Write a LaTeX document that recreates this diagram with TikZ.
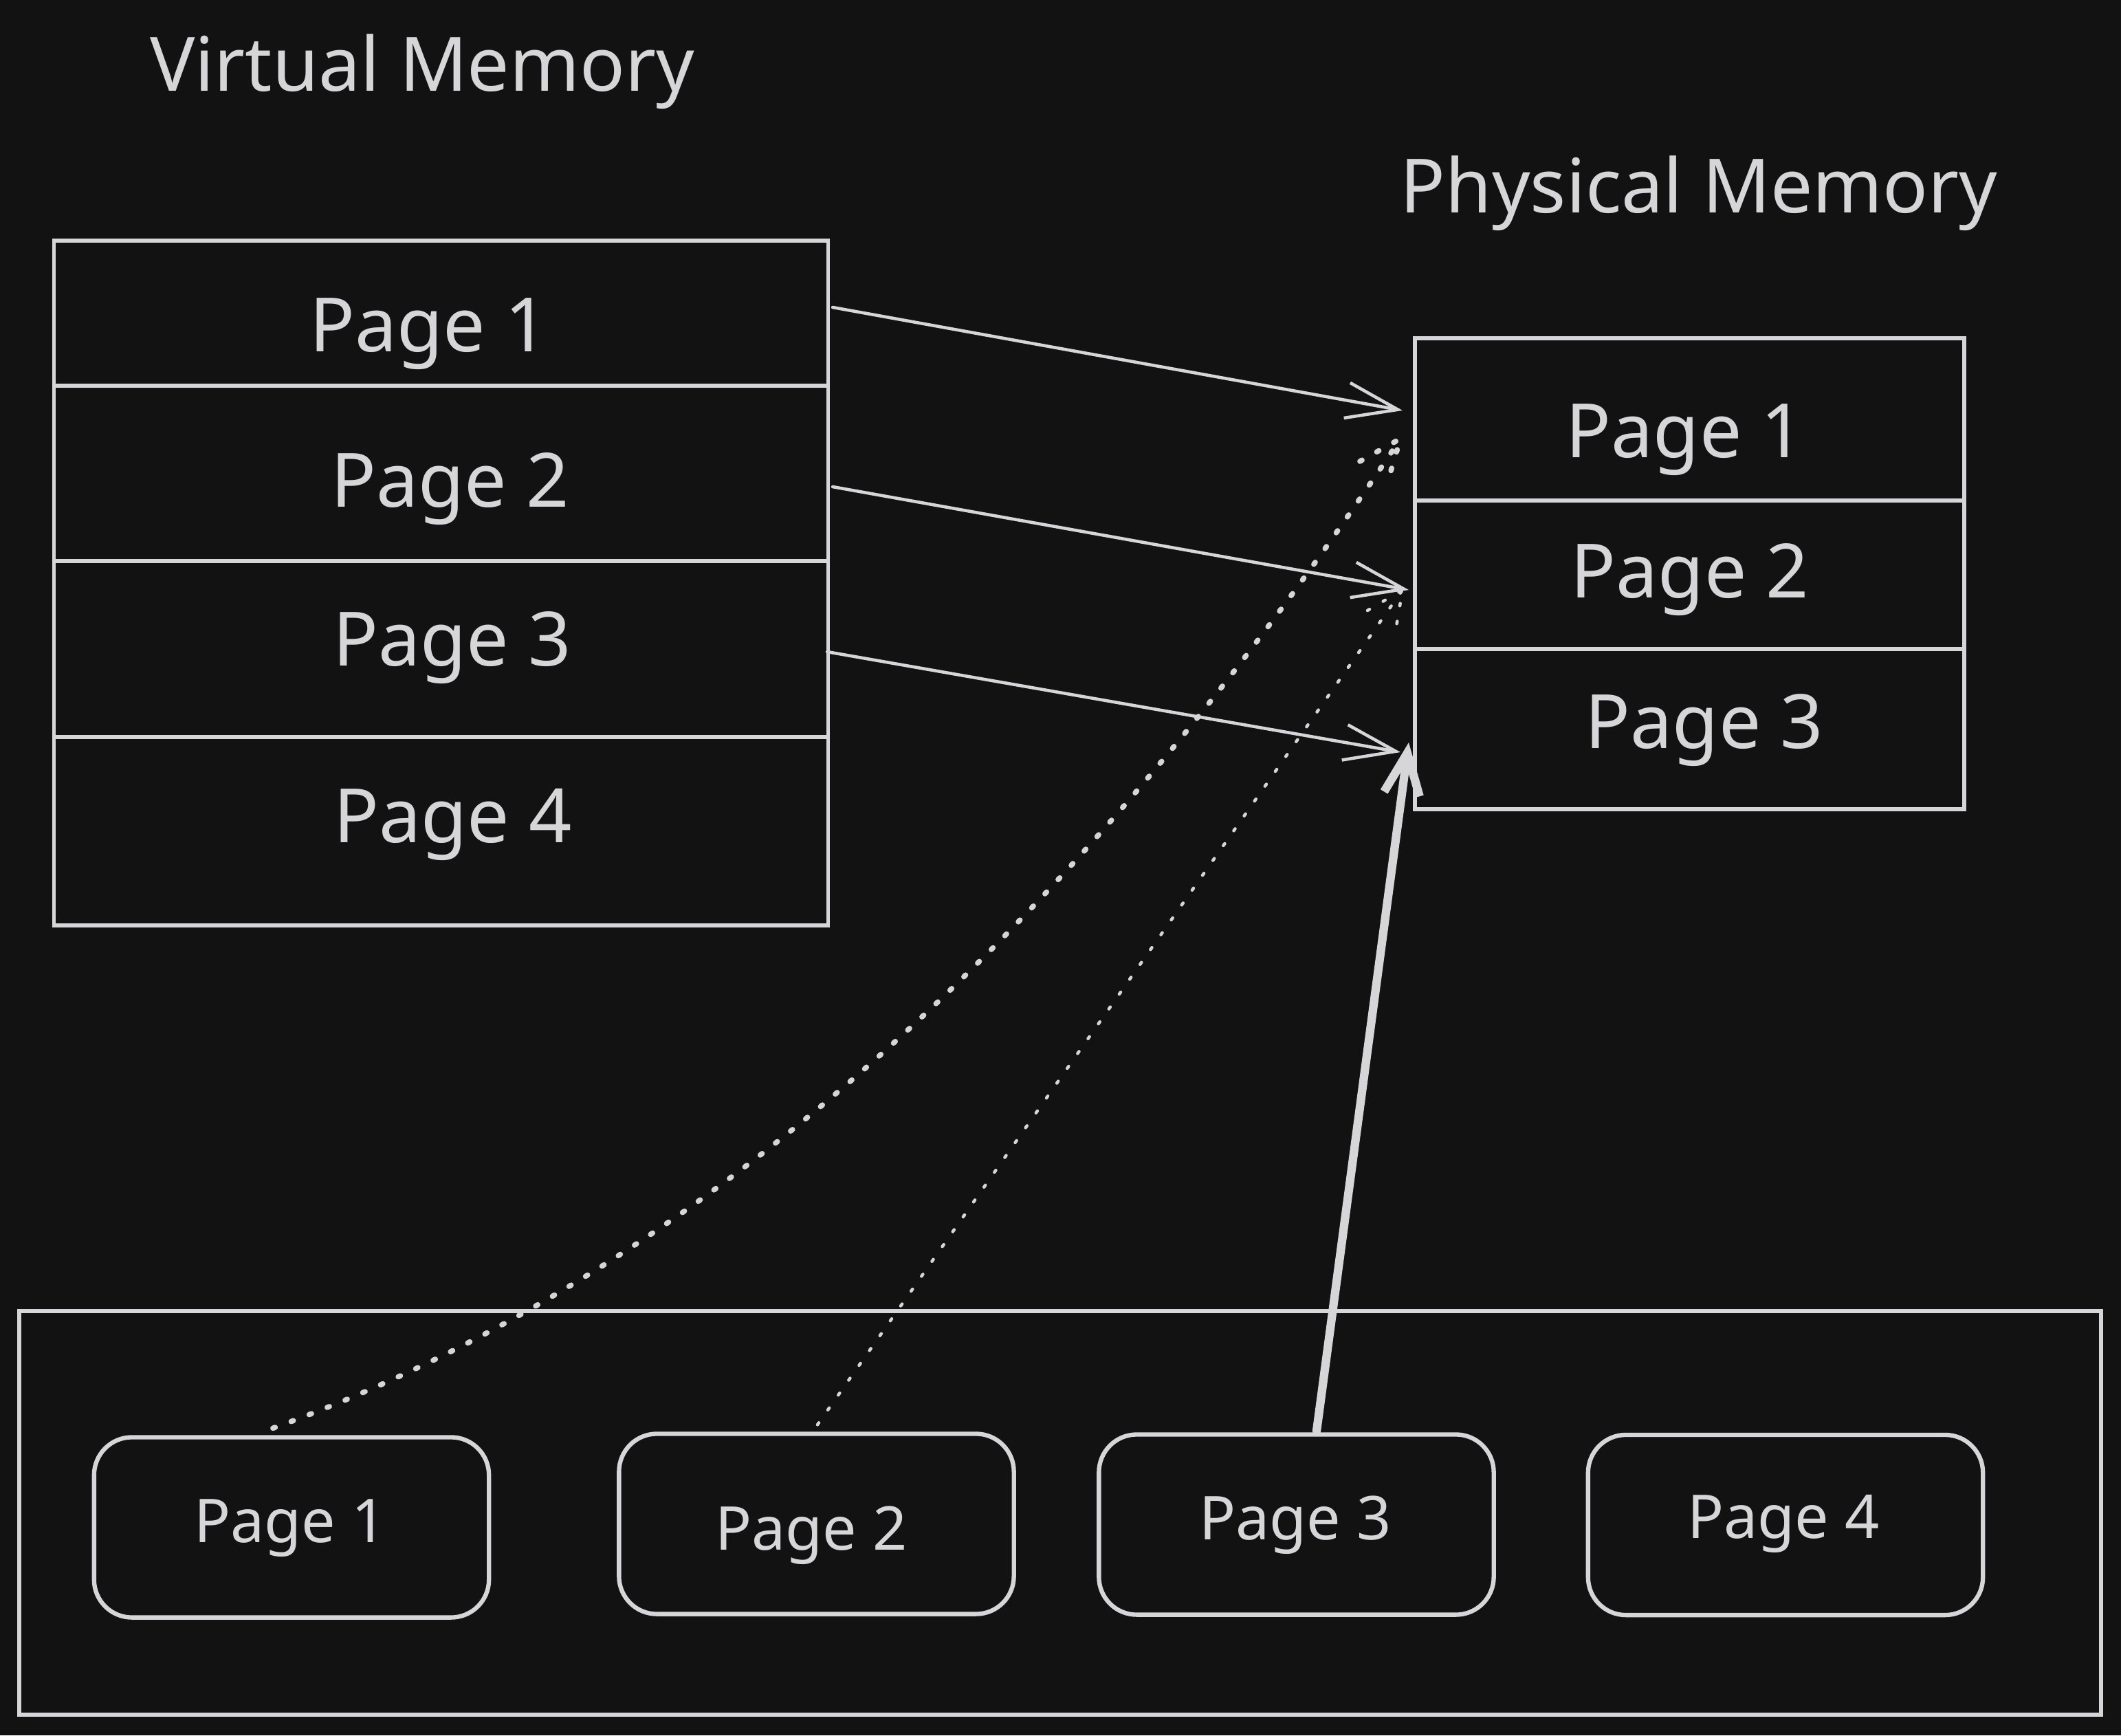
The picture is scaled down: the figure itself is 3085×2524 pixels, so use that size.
\documentclass[tikz,border=0pt]{standalone}
\usepackage{fontspec}
\setmainfont{Noto Sans}
\usetikzlibrary{arrows.meta,calc}
\definecolor{bg}{RGB}{18,18,18}
\definecolor{ink}{RGB}{214,214,217}
\begin{document}
\begin{tikzpicture}[x=0.01cm,y=-0.01cm,
  vcell/.style={draw=ink,line width=1.6pt,inner sep=0pt,minimum width=11.25cm},
  pcell/.style={draw=ink,line width=1.6pt,inner sep=0pt,minimum width=7.99cm},
  pagebox/.style={draw=ink,line width=1.8pt,rounded corners=0.55cm,inner sep=0pt,minimum width=5.74cm,minimum height=2.62cm},
  outerbox/.style={draw=ink,line width=1.6pt,inner sep=0pt},
  lbl/.style={text=ink,font=\fontsize{31}{37}\selectfont,anchor=base,inner sep=0pt},
  slbl/.style={text=ink,font=\fontsize{25}{30}\selectfont,anchor=base,inner sep=0pt},
  link/.style={draw=ink,line width=1.3pt,line cap=round,-{Straight Barb[length=0.75cm,width=0.52cm]}},
  thicklink/.style={draw=ink,line width=3.5pt,line cap=round,-{Straight Barb[length=0.6cm,width=0.52cm]}},
  dotA/.style={draw=ink,line width=2.2pt,line cap=round,dash pattern=on 1pt off 7pt},
  dotB/.style={draw=ink,line width=1.3pt,line cap=round,dash pattern=on 1pt off 6.5pt}
]
\useasboundingbox[fill=bg] (0,0) rectangle (3085,2524);

% titles
\node[lbl] (vtitle) at (614,132) {Virtual Memory};
\node[lbl] (ptitle) at (2471,309) {Physical Memory};

% virtual memory cells
\node[vcell,minimum height=2.11cm] (v1) at (641.5,455.5) {};
\node[vcell,minimum height=2.55cm] (v2) at (641.5,688.5) {};
\node[vcell,minimum height=2.56cm] (v3) at (641.5,944) {};
\node[vcell,minimum height=2.74cm] (v4) at (641.5,1209) {};
\node[lbl] (v1t) at (624,511) {Page 1};
\node[lbl] (v2t) at (655,737) {Page 2};
\node[lbl] (v3t) at (658,968) {Page 3};
\node[lbl] (v4t) at (659,1225) {Page 4};

% physical memory cells
\node[pcell,minimum height=2.36cm] (p1) at (2457.5,610) {};
\node[pcell,minimum height=2.16cm] (p2) at (2457.5,836) {};
\node[pcell,minimum height=2.33cm] (p3) at (2457.5,1060.5) {};
\node[lbl] (p1t) at (2451,665) {Page 1};
\node[lbl] (p2t) at (2458,869) {Page 2};
\node[lbl] (p3t) at (2479,1088) {Page 3};

% disk / bottom container
\node[outerbox,minimum width=30.26cm,minimum height=5.87cm] (disk) at (1542,2200.5) {};
\node[pagebox] (b1) at (424,2221.5) {};
\node[pagebox] (b2) at (1187.5,2216.5) {};
\node[pagebox] (b3) at (1885.5,2217.5) {};
\node[pagebox] (b4) at (2597,2218) {};
\node[slbl] (b1t) at (422,2243) {Page 1};
\node[slbl] (b2t) at (1180,2254) {Page 2};
\node[slbl] (b3t) at (1884,2239) {Page 3};
\node[slbl] (b4t) at (2594,2237) {Page 4};

% mapping arrows
\draw[link] ($(v1.east)+(4,-8.5)$) -- ($(p1.west)+(-15,-13)$);
\draw[link] ($(v2.east)+(4,19.5)$) -- ($(p2.west)+(-6,22)$);
\draw[link] ($(v3.east)+(-4,4)$) -- ($(p3.west)+(-18,33.5)$);
\draw[thicklink] ($(b3.north)+(29.5,-2)$) -- ($(p3.west)+(-6,19.5)$);

% dotted connectors
\coordinate (t1) at ($(p1.west)+(-18,28)$);
\coordinate (t2) at ($(p2.west)+(-15,22)$);
\draw[dotA] ($(b1.north)+(-27,-10)$) .. controls (998,1860) and (1546,1379) .. (t1);
\draw[dotA] ($(t1)+(-59,33)$) -- (t1) -- ($(t1)+(-19,64)$);
\draw[dotB] ($(b2.north)+(1.5,-10)$) -- (t2);
\draw[dotB] ($(t2)+(-51,30)$) -- (t2) -- ($(t2)+(-10,59)$);
\end{tikzpicture}
\end{document}
